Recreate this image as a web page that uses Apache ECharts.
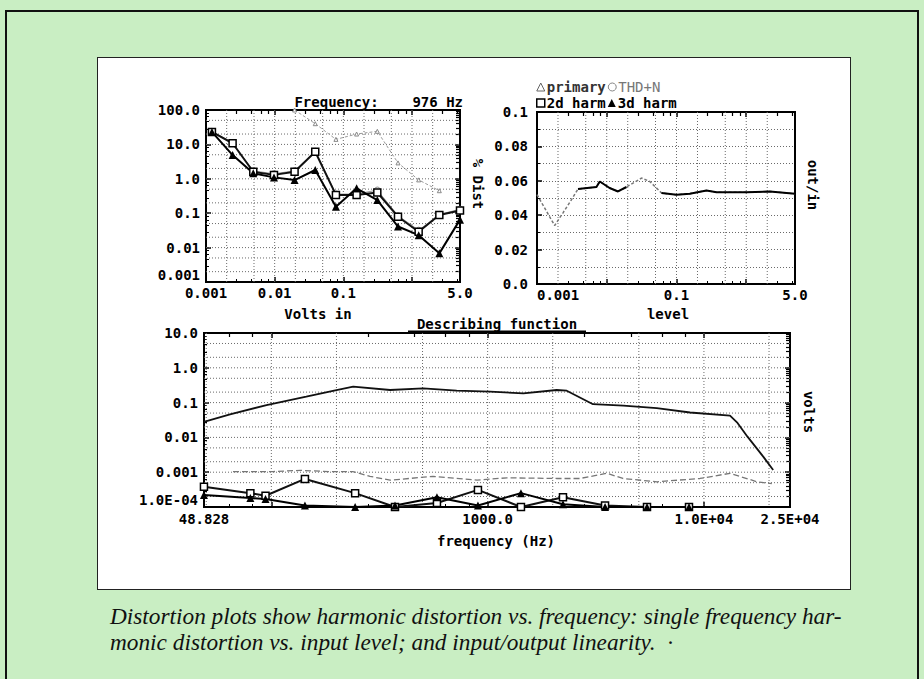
<!DOCTYPE html>
<html>
<head>
<meta charset="utf-8">
<script src="https://cdn.jsdelivr.net/npm/echarts@6/dist/echarts.min.js"></script>
<style>
html, body { margin: 0; padding: 0; background: #c9eec3; overflow: hidden; }
#frame { position: absolute; left: 5px; top: 10px; width: 910px; height: 690px; border: 2px solid #111; border-bottom: none; }
#panel { position: absolute; left: 97px; top: 57px; width: 752px; height: 531px; background: #fff; border: 1.5px solid #222; }
#cap { position: absolute; left: 110px; top: 603px; margin: 0; font: italic 23.3px "Liberation Serif", "DejaVu Serif", serif; line-height: 26px; color: #111; white-space: nowrap; }
#chart { position: absolute; left: 0; top: 0; width: 924px; height: 679px; }
</style>
</head>
<body>
<div id="frame"></div>
<div id="panel"></div>
<p id="cap">Distortion plots show harmonic distortion vs. frequency: single frequency har-<br>monic distortion vs. input level; and input/output linearity. &nbsp;·</p>
<div id="chart"></div>
<script>
// --- top left: distortion vs input level, 976 Hz ---
var levelIn = [0.00122, 0.00244, 0.00488, 0.00977, 0.0195, 0.039, 0.078, 0.156, 0.3125, 0.625, 1.25, 2.5, 5.0]
var harm2Level = [23, 10.8, 1.6, 1.3, 1.6, 6.1, 0.34, 0.34, 0.4, 0.079, 0.029, 0.089, 0.12]
var harm3Level = [23, 4.9, 1.44, 1.1, 0.92, 1.8, 0.155, 0.53, 0.24, 0.041, 0.023, 0.0068, 0.065]
var thdLevel = [24, 11, 1.7, 1.4, 1.7, 6.3, 0.36, 0.36, 0.47, 0.085, 0.032, 0.092, 0.13]
var primaryIn = [0.0195, 0.039, 0.078, 0.156, 0.3125, 0.625, 1.25, 2.5]
var primaryLevel = [100, 40, 14, 20, 24, 2.9, 0.93, 0.45]

// --- top right: linearity (out/in) vs level ---
var linLevel = [0.001, 0.00179, 0.00236, 0.00312, 0.00387, 0.00711, 0.00794, 0.011, 0.0145, 0.0192, 0.0315, 0.0414, 0.061, 0.1, 0.155, 0.269, 0.375, 1.01, 2.18, 5.0]
var linDist = [0.052, 0.034, 0.0414, 0.049, 0.0552, 0.0564, 0.0596, 0.0558, 0.0538, 0.0564, 0.0616, 0.0596, 0.0529, 0.0519, 0.0525, 0.0544, 0.0533, 0.0533, 0.0538, 0.0525]
var linSolid = [0, 0, 0, 0, 1, 1, 1, 1, 1, 1, 0, 0, 1, 1, 1, 1, 1, 1, 1, 1]

// --- bottom: describing function vs frequency ---
var mainFreq = [48.8, 64.4, 95, 145, 200, 239, 354, 504, 719, 1026, 1462, 2085, 2321, 3070, 4240, 6050, 8630, 13200, 14300, 15900, 18800, 20900]
var mainVolts = [0.028, 0.046, 0.085, 0.148, 0.23, 0.286, 0.23, 0.257, 0.22, 0.206, 0.185, 0.23, 0.22, 0.09, 0.082, 0.069, 0.052, 0.042, 0.026, 0.0105, 0.0028, 0.00116]
var thdFreq = [66.5, 102, 136, 187, 238, 286, 354, 559, 893, 1228, 2093, 2673, 3563, 4223, 6067, 9590, 13200, 17600, 20600]
var thdVolts = [0.00104, 0.00104, 0.00113, 0.00104, 0.00104, 0.00076, 0.00059, 0.00076, 0.00059, 0.00069, 0.00066, 0.00066, 0.00093, 0.00066, 0.00053, 0.00066, 0.00093, 0.00053, 0.00047]
var harmFreq = [48.8, 80, 94, 143, 244, 373, 583, 902, 1426, 2230, 3490, 5455, 8530]
var harm2Volts = [0.00038, 0.00025, 0.00021, 0.00064, 0.00025, 0.0001, 0.00013, 0.00031, 0.0001, 0.00019, 0.00011, 0.0001, 0.0001]
var harm3Volts = [0.00022, 0.00018, 0.00017, 0.00011, 0.0001, 0.00011, 0.00019, 0.00011, 0.00025, 0.00012, 0.0001, 0.0001, 0.0001]

// tick labels
var inTicks = [0.001, 0.01, 0.1, 5]
var inTickText = ['0.001', '0.01', '0.1', '5.0']
var pctTicks = [0.001, 0.01, 0.1, 1, 10, 100]
var pctTickText = ['0.001', '0.01', '0.1', '1.0', '10.0', '100.0']
var lvlTicks = [0.001, 0.1, 5]
var lvlTickText = ['0.001', '0.1', '5.0']
var distTicks = [0, 0.02, 0.04, 0.06, 0.08, 0.1]
var distTickText = ['0.0', '0.02', '0.04', '0.06', '0.08', '0.1']
var freqTicks = [48.828, 1000, 10000, 25000]
var freqTickText = ['48.828', '1000.0', '1.0E+04', '2.5E+04']
var voltTicks = [0.0001, 0.001, 0.01, 0.1, 1, 10]
var voltTickText = ['1.0E-04', '0.001', '0.01', '0.1', '1.0', '10.0']

var mono = '"DejaVu Sans Mono", "Liberation Mono", monospace'

function pairs(xs, ys) {
    return xs.map(function(x, i) { return [x, ys[i]] })
}
function tickText(ticks, texts) {
    return function(v) {
        for (var i = 0; i < ticks.length; i++) {
            if (Math.abs(ticks[i] - v) <= Math.abs(ticks[i]) * 1e-4 + 1e-12) return texts[i]
        }
        return ''
    }
}
// 1-2-5 grid lines inside a log range
function grid125(min, max) {
    var out = []
    for (var e = -6; e <= 6; e++) {
        [1, 2, 5].forEach(function(m) {
            var v = m * Math.pow(10, e)
            if (v > min * 1.001 && v < max * 0.999) out.push(v)
        })
    }
    return out
}
// dotted grid drawn through the axes of one grid
function gridSeries(idx, xs, ys, xmin, ymin) {
    var data = xs.map(function(v) { return [v, ymin, 0] })
        .concat(ys.map(function(v) { return [xmin, v, 1] }))
    return {
        type: 'custom',
        xAxisIndex: idx,
        yAxisIndex: idx,
        silent: true,
        z: 1,
        data: data,
        renderItem: function(params, api) {
            var cs = params.coordSys
            var p = api.coord([api.value(0), api.value(1)])
            var shape = api.value(2) === 0
                ? { x1: p[0], y1: cs.y, x2: p[0], y2: cs.y + cs.height }
                : { x1: cs.x, y1: p[1], x2: cs.x + cs.width, y2: p[1] }
            return { type: 'line', shape: shape, style: { stroke: '#6a6a6a', lineWidth: 1, lineDash: [1, 2] } }
        }
    }
}

function logAxis(grid, min, max, ticks, texts, pos, margin) {
    return {
        type: 'log',
        logBase: 10,
        gridIndex: grid,
        min: min,
        max: max,
        position: pos,
        axisLine: { show: true, lineStyle: { color: '#000', width: 2 } },
        axisTick: { show: true, inside: true, length: 5, lineStyle: { color: '#000', width: 1.5 } },
        minorTick: { show: true, splitNumber: 5, length: 3, lineStyle: { color: '#000' } },
        splitLine: { show: false },
        axisLabel: {
            color: '#000',
            fontFamily: mono,
            fontWeight: 'bold',
            fontSize: 14,
            margin: margin,
            showMinLabel: true,
            showMaxLabel: true,
            formatter: tickText(ticks, texts)
        }
    }
}
// opposite-side axis that only carries the tick strip
function tickStrip(grid, min, max, pos, minor) {
    var a = logAxis(grid, min, max, [], [], pos, 0)
    a.axisLabel = { show: false }
    a.minorTick = { show: true, splitNumber: minor, length: 4, lineStyle: { color: '#000', width: 1.2 } }
    return a
}

var lineSolid = linDist.map(function(v, i) { return linSolid[i] ? v : null })

var textBase = { fontFamily: mono, fontWeight: 'bold', fontSize: 14, fill: '#000' }
function label(txt, x, y, rot, align) {
    return {
        type: 'text',
        x: x,
        y: y,
        rotation: rot || 0,
        z: 50,
        style: Object.assign({ text: txt, align: align || 'center', verticalAlign: 'middle' }, textBase)
    }
}

var xTL = logAxis(0, 0.001, 5, inTicks, inTickText, 'bottom', 4)
var xTR = logAxis(1, 0.001, 5, lvlTicks, lvlTickText, 'bottom', 4)
xTR.axisLabel.alignMinLabel = 'left'
var xB = logAxis(2, 48.828, 25000, freqTicks, freqTickText, 'bottom', 5)
var yTL = logAxis(0, 0.001, 100, pctTicks, pctTickText, 'left', 6)
yTL.axisLabel.verticalAlignMinLabel = 'bottom'
var yB = logAxis(2, 0.0001, 10, voltTicks, voltTickText, 'left', 6)
yB.axisLabel.verticalAlignMinLabel = 'bottom'

var myChart = echarts.init(document.getElementById('chart'), null, { renderer: 'svg' })
var option = {
    backgroundColor: 'transparent',
    animation: false,
    grid: [
        { left: 206, top: 110, width: 254, height: 172, show: true, borderColor: '#000', borderWidth: 2 },
        { left: 537, top: 112, width: 258, height: 172, show: true, borderColor: '#000', borderWidth: 2 },
        { left: 204, top: 333, width: 586, height: 174, show: true, borderColor: '#000', borderWidth: 2 }
    ],
    legend: {
        left: 536,
        top: 80,
        width: 160,
        padding: 0,
        itemGap: 2,
        itemWidth: 8,
        itemHeight: 8,
        selectedMode: false,
        textStyle: { fontFamily: mono, fontWeight: 'bold', fontSize: 14, lineHeight: 13, color: '#000', padding: [0, 0, 0, -3] },
        data: [
            { name: 'primary', icon: 'triangle', itemStyle: { color: '#fff', borderColor: '#666', borderWidth: 1 }, textStyle: { color: '#333' } },
            { name: 'THD+N', icon: 'circle', itemStyle: { color: '#fff', borderColor: '#888', borderWidth: 1 }, textStyle: { color: '#777', fontWeight: 'normal' } },
            { name: '2d harm', icon: 'rect', itemStyle: { color: '#fff', borderColor: '#000', borderWidth: 1.5 } },
            { name: '3d harm', icon: 'triangle', itemStyle: { color: '#000' } }
        ]
    },
    xAxis: [
        xTL, xTR, xB,
        tickStrip(0, 0.001, 5, 'top', 5),
        tickStrip(1, 0.001, 5, 'top', 5),
        tickStrip(2, 48.828, 25000, 'top', 5)
    ],
    yAxis: [
        yTL,
        {
            type: 'value',
            gridIndex: 1,
            min: 0,
            max: 0.1,
            interval: 0.02,
            axisLine: { show: true, lineStyle: { color: '#000', width: 2 } },
            axisTick: { show: true, inside: true, length: 5, lineStyle: { color: '#000', width: 1.5 } },
            splitLine: { show: true, lineStyle: { color: '#6a6a6a', width: 1, type: [1, 2] } },
            minorTick: { show: true, splitNumber: 2, length: 3 },
            minorSplitLine: { show: true, lineStyle: { color: '#6a6a6a', width: 1, type: [1, 2] } },
            axisLabel: {
                color: '#000',
                fontFamily: mono,
                fontWeight: 'bold',
                fontSize: 14,
                margin: 9,
                formatter: tickText(distTicks, distTickText)
            }
        },
        yB,
        tickStrip(0, 0.001, 100, 'right', 9),
        tickStrip(2, 0.0001, 10, 'right', 9)
    ],
    series: [
        gridSeries(0, grid125(0.001, 5), grid125(0.001, 100), 0.001, 0.001),
        gridSeries(1, grid125(0.001, 5), [], 0.001, 0),
        gridSeries(2, grid125(48.828, 25000), grid125(0.0001, 10), 48.828, 0.0001),

        // top left
        {
            name: 'primary', type: 'line', xAxisIndex: 0, yAxisIndex: 0,
            data: pairs(primaryIn, primaryLevel),
            symbol: 'triangle', symbolSize: 4,
            lineStyle: { color: '#999', width: 1, type: [3, 2] },
            itemStyle: { color: '#fff', borderColor: '#888', borderWidth: 1 }
        },
        {
            name: 'THD+N', type: 'line', xAxisIndex: 0, yAxisIndex: 0,
            data: pairs(levelIn, thdLevel),
            symbol: 'circle', symbolSize: 6,
            lineStyle: { color: '#999', width: 1 },
            itemStyle: { color: '#fff', borderColor: '#888', borderWidth: 1 }
        },
        {
            name: '2d harm', type: 'line', xAxisIndex: 0, yAxisIndex: 0,
            data: pairs(levelIn, harm2Level),
            symbol: 'rect', symbolSize: 7,
            lineStyle: { color: '#111', width: 2 },
            itemStyle: { color: '#fff', borderColor: '#000', borderWidth: 1.5 }
        },
        {
            name: '3d harm', type: 'line', xAxisIndex: 0, yAxisIndex: 0,
            data: pairs(levelIn, harm3Level),
            symbol: 'triangle', symbolSize: 8,
            lineStyle: { color: '#000', width: 2 },
            itemStyle: { color: '#000' }
        },

        // top right
        {
            name: 'out/in dashed', type: 'line', xAxisIndex: 1, yAxisIndex: 1,
            data: pairs(linLevel, linDist),
            symbol: 'none',
            lineStyle: { color: '#777', width: 1.5, type: [3, 2] }
        },
        {
            name: 'out/in', type: 'line', xAxisIndex: 1, yAxisIndex: 1,
            data: pairs(linLevel, lineSolid),
            symbol: 'none', connectNulls: false,
            lineStyle: { color: '#000', width: 2 }
        },

        // bottom
        {
            name: 'primary', type: 'line', xAxisIndex: 2, yAxisIndex: 2,
            data: pairs(mainFreq, mainVolts),
            symbol: 'none',
            lineStyle: { color: '#111', width: 1.8 }
        },
        {
            name: 'THD+N', type: 'line', xAxisIndex: 2, yAxisIndex: 2,
            data: pairs(thdFreq, thdVolts),
            symbol: 'none',
            lineStyle: { color: '#777', width: 1.3, type: [6, 3] }
        },
        {
            name: '2d harm', type: 'line', xAxisIndex: 2, yAxisIndex: 2,
            data: pairs(harmFreq, harm2Volts),
            symbol: 'rect', symbolSize: 7,
            lineStyle: { color: '#111', width: 2 },
            itemStyle: { color: '#fff', borderColor: '#000', borderWidth: 1.5 }
        },
        {
            name: '3d harm', type: 'line', xAxisIndex: 2, yAxisIndex: 2,
            data: pairs(harmFreq, harm3Volts),
            symbol: 'triangle', symbolSize: 8,
            lineStyle: { color: '#000', width: 2 },
            itemStyle: { color: '#000' }
        }
    ],
    graphic: [
        label('Frequency:    976 Hz', 463, 102, 0, 'right'),
        label('Volts in', 318, 314),
        label('level', 668, 314),
        label('% Dist', 478, 184, -Math.PI / 2),
        label('out/in', 813, 185, -Math.PI / 2),
        label('volts', 809, 412, -Math.PI / 2),
        label('Describing function', 497, 324),
        { type: 'line', z: 50, shape: { x1: 408, y1: 331.5, x2: 586, y2: 331.5 }, style: { stroke: '#000', lineWidth: 2 } },
        label('frequency (Hz)', 496, 541)
    ]
}
myChart.setOption(option)

window.addEventListener('resize', function() {
    myChart.resize()
})
</script>
</body>
</html>
